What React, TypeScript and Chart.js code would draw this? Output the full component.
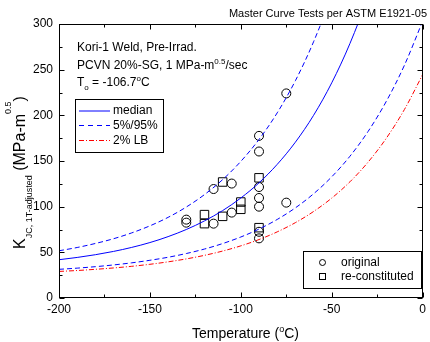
import React, { useEffect, useRef } from "react";
import { Chart, registerables } from "chart.js";
Chart.register(...registerables);

const FONT = "'Liberation Sans', Arial, sans-serif";

// Curve values (°C, MPa·m^0.5)
const tempGrid = [-200, -190, -180, -170, -160, -150, -140, -130, -120, -110, -100, -90, -80, -70, -60, -50, -40, -30, -20, -10, 0];
const medianK = [41.9, 44.4, 47.4, 51.0, 55.4, 60.7, 67.2, 75.0, 84.4, 95.7, 109.5, 126.1, 146.3, 170.6, 200.0, 235.6, 278.6, 330.6, 393.5, 469.6, 561.5];
const p5K = [31.4, 32.7, 34.3, 36.2, 38.5, 41.3, 44.6, 48.7, 53.6, 59.6, 66.8, 75.5, 86.0, 98.7, 114.1, 132.7, 155.2, 182.4, 215.3, 255.0, 303.1];
const p95K = [51.7, 55.3, 59.7, 64.9, 71.3, 79.0, 88.3, 99.6, 113.2, 129.6, 149.6, 173.6, 202.7, 237.9, 280.5, 332.0, 394.2];
const lb2K = [29.1, 30.1, 31.4, 32.9, 34.7, 36.9, 39.6, 42.8, 46.7, 51.4, 57.1, 64.0, 72.4, 82.5, 94.7, 109.4, 127.2, 148.8, 174.9, 206.5, 244.6];

// Test data
const origT = [-130, -130, -115, -115, -105, -105, -90, -90, -90, -90, -90, -90, -90, -75, -75];
const origK = [85.8, 82.5, 119.3, 81.4, 125.3, 93.5, 177.5, 160.4, 121.5, 109.5, 100.0, 72.5, 65.3, 224.0, 104.4];
const reconT = [-120, -120, -110, -110, -100, -100, -90, -90];
const reconK = [91.3, 81.4, 127.0, 89.4, 105.1, 97.1, 131.6, 77.0];

const xTicks = [-200, -150, -100, -50, 0];
const yTicks = [0, 50, 100, 150, 200, 250, 300];
const xMinor = [-175, -125, -75, -25];
const yMinor = [25, 75, 125, 175, 225, 275];

type Seg = { t: string; size: number; dy?: number };

function drawRich(ctx: CanvasRenderingContext2D, segs: Seg[], x: number, y: number, align: "left" | "center" | "right") {
  let w = 0;
  const widths: number[] = [];
  for (const s of segs) {
    ctx.font = `${s.size}px ${FONT}`;
    const m = ctx.measureText(s.t).width;
    widths.push(m);
    w += m;
  }
  let cx = align === "left" ? x : align === "center" ? x - w / 2 : x - w;
  ctx.textAlign = "left";
  ctx.textBaseline = "alphabetic";
  segs.forEach((s, i) => {
    ctx.font = `${s.size}px ${FONT}`;
    ctx.fillText(s.t, cx, y + (s.dy || 0));
    cx += widths[i];
  });
}

const decor = {
  id: "decor",
  afterDraw(chart: any) {
    const ctx: CanvasRenderingContext2D = chart.ctx;
    const { left, right, top, bottom } = chart.chartArea;
    const xs = chart.scales.x;
    const ys = chart.scales.y;
    const L = Math.round(left) + 0.5;
    const R = Math.round(right) - 0.5;
    const T = Math.round(top) + 0.5;
    const B = Math.round(bottom) - 0.5;
    ctx.save();
    ctx.strokeStyle = "#000";
    ctx.fillStyle = "#000";
    ctx.lineWidth = 1;
    ctx.setLineDash([]);
    ctx.strokeRect(L, T, R - L, B - T);
    ctx.beginPath();
    const tickX = (v: number, len: number) => {
      const px = Math.round(xs.getPixelForValue(v)) + 0.5;
      ctx.moveTo(px, B); ctx.lineTo(px, B - len);
      ctx.moveTo(px, T); ctx.lineTo(px, T + len);
    };
    const tickY = (v: number, len: number) => {
      const py = Math.round(ys.getPixelForValue(v)) + 0.5;
      ctx.moveTo(L, py); ctx.lineTo(L + len, py);
      ctx.moveTo(R, py); ctx.lineTo(R - len, py);
    };
    xTicks.forEach((v) => tickX(v, 5));
    xMinor.forEach((v) => tickX(v, 3));
    yTicks.forEach((v) => tickY(v, 5));
    yMinor.forEach((v) => tickY(v, 3));
    ctx.stroke();

    // top title
    drawRich(ctx, [{ t: "Master Curve Tests per ASTM E1921-05", size: 11 }], 427, 16.5, "right");

    // annotation text
    drawRich(ctx, [{ t: "Kori-1 Weld, Pre-Irrad.", size: 12 }], 77, 51, "left");
    drawRich(ctx, [
      { t: "PCVN 20%-SG, 1 MPa-m", size: 12 },
      { t: "0.5", size: 8, dy: -5 },
      { t: "/sec", size: 12 },
    ], 77, 68.5, "left");
    drawRich(ctx, [
      { t: "T", size: 12 },
      { t: "o", size: 8, dy: 4 },
      { t: " = -106.7", size: 12 },
      { t: "o", size: 8, dy: -5 },
      { t: "C", size: 12 },
    ], 77, 85.5, "left");

    // legend 1
    ctx.fillStyle = "#fff";
    ctx.fillRect(75.5, 99.5, 88, 53);
    ctx.strokeStyle = "#000";
    ctx.strokeRect(75.5, 99.5, 88, 53);
    const entries = [
      { y: 111, color: "#0000ff", dash: [] as number[], label: "median" },
      { y: 125.5, color: "#0000ff", dash: [5, 4], label: "5%/95%" },
      { y: 140.5, color: "#ff0000", dash: [5, 2, 1, 2], label: "2% LB" },
    ];
    entries.forEach((e) => {
      ctx.strokeStyle = e.color;
      ctx.setLineDash(e.dash);
      ctx.beginPath();
      ctx.moveTo(79, e.y);
      ctx.lineTo(110, e.y);
      ctx.stroke();
      ctx.setLineDash([]);
      ctx.fillStyle = "#000";
      ctx.font = `12px ${FONT}`;
      ctx.textBaseline = "middle";
      ctx.textAlign = "left";
      ctx.fillText(e.label, 113, e.y);
    });

    // legend 2
    ctx.fillStyle = "#fff";
    ctx.fillRect(303.5, 251.5, 118, 37);
    ctx.strokeStyle = "#000";
    ctx.strokeRect(303.5, 251.5, 118, 37);
    ctx.beginPath();
    ctx.arc(322.5, 262.5, 3, 0, Math.PI * 2);
    ctx.stroke();
    ctx.strokeRect(319.5, 273.5, 6, 6);
    ctx.fillStyle = "#000";
    ctx.font = `12px ${FONT}`;
    ctx.textBaseline = "middle";
    ctx.fillText("original", 341, 262.5);
    ctx.fillText("re-constituted", 341, 276.5);

    // x-axis title
    drawRich(ctx, [
      { t: "Temperature (", size: 14 },
      { t: "o", size: 9, dy: -6 },
      { t: "C)", size: 14 },
    ], 245.5, 337.5, "center");

    // y-axis title (rotated)
    ctx.translate(24.5, 172.5);
    ctx.rotate(-Math.PI / 2);
    drawRich(ctx, [
      { t: "K", size: 16 },
      { t: "JC, 1T-adjusted", size: 9, dy: 7 },
      { t: " (MPa-m", size: 16 },
      { t: "0.5", size: 9, dy: -14 },
      { t: ")", size: 16 },
    ], 0, 0, "center");
    ctx.restore();
  },
};

export default function App() {
  const ref = useRef<HTMLCanvasElement | null>(null);
  useEffect(() => {
    if (!ref.current) return;
    const pts = (xsArr: number[], ysArr: number[]) => ysArr.map((y, i) => ({ x: xsArr[i], y }));
    const lineDs = (label: string, data: any[], color: string, dash: number[]) => ({
      label,
      data,
      showLine: true,
      borderColor: color,
      backgroundColor: color,
      borderWidth: 1,
      borderDash: dash,
      pointRadius: 0,
      pointHoverRadius: 0,
      cubicInterpolationMode: "monotone",
      fill: false,
    });
    const chart = new Chart(ref.current, {
      type: "scatter",
      data: {
        datasets: [
          lineDs("2% LB", pts(tempGrid, lb2K), "#ff0000", [5, 2, 1, 2]),
          lineDs("5%", pts(tempGrid, p5K), "#0000ff", [5, 3]),
          lineDs("95%", pts(tempGrid, p95K), "#0000ff", [5, 3]),
          lineDs("median", pts(tempGrid, medianK), "#0000ff", []),
          {
            label: "original",
            data: pts(origT, origK),
            pointStyle: "circle",
            pointRadius: 4.5,
            borderColor: "#000",
            backgroundColor: "rgba(0,0,0,0)",
            borderWidth: 1,
            showLine: false,
          },
          {
            label: "re-constituted",
            data: pts(reconT, reconK),
            pointStyle: "rect",
            pointRadius: 6,
            borderColor: "#000",
            backgroundColor: "rgba(0,0,0,0)",
            borderWidth: 1,
            showLine: false,
          },
        ] as any,
      },
      options: {
        animation: false,
        responsive: false,
        devicePixelRatio: 1,
        layout: { padding: { top: 24, right: 1, left: 0, bottom: 0 } },
        plugins: { legend: { display: false }, title: { display: false }, tooltip: { enabled: false } },
        events: [],
        scales: {
          x: {
            type: "linear",
            min: -200,
            max: 0,
            afterBuildTicks: (s: any) => { s.ticks = xTicks.map((v) => ({ value: v })); },
            afterFit: (s: any) => { s.height = 44; },
            ticks: { font: { size: 12, family: FONT }, color: "#000", padding: 4, maxRotation: 0, autoSkip: false },
            grid: { display: false, drawTicks: false },
            border: { display: false },
          },
          y: {
            type: "linear",
            min: 0,
            max: 300,
            afterBuildTicks: (s: any) => { s.ticks = yTicks.map((v) => ({ value: v })); },
            afterFit: (s: any) => { s.width = 59; },
            ticks: { font: { size: 12, family: FONT }, color: "#000", padding: 6, autoSkip: false },
            grid: { display: false, drawTicks: false },
            border: { display: false },
          },
        },
      } as any,
      plugins: [decor],
    });
    return () => chart.destroy();
  }, []);
  return (
    <div style={{ position: "fixed", left: 0, top: 0, width: 430, height: 342, background: "#fff" }}>
      <canvas ref={ref} width={430} height={342} style={{ width: 430, height: 342, display: "block" }} />
    </div>
  );
}
